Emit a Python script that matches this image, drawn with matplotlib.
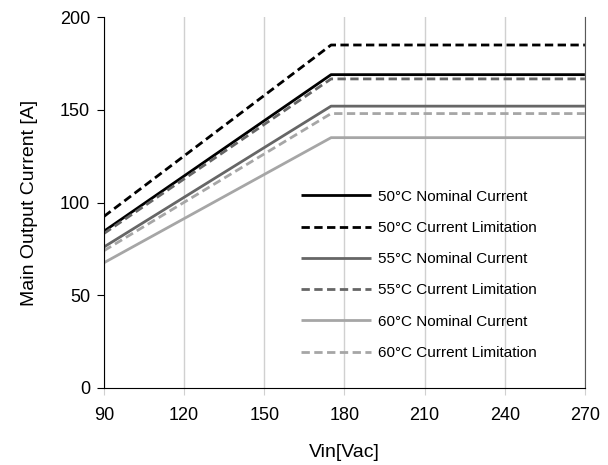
import matplotlib
matplotlib.use("Agg")
import matplotlib.pyplot as plt

plt.rcParams['font.family'] = ['Liberation Sans', 'DejaVu Sans']

vin = [90, 175, 270]
nom50 = [84.5, 169, 169]
lim50 = [92.5, 185, 185]
nom55 = [76, 152, 152]
lim55 = [83.3, 166.7, 166.7]
nom60 = [67.5, 135, 135]
lim60 = [74, 148, 148]
labels = ["50°C Nominal Current", "50°C Current Limitation",
          "55°C Nominal Current", "55°C Current Limitation",
          "60°C Nominal Current", "60°C Current Limitation"]
xticks = [90, 120, 150, 180, 210, 240, 270]
yticks = [0, 50, 100, 150, 200]

fig = plt.figure(figsize=(6.08, 4.65), dpi=100)
ax = fig.add_axes([0.171, 0.166, 0.791, 0.797])

series = [nom50, lim50, nom55, lim55, nom60, lim60]
colors = ['#000000', '#000000', '#666666', '#666666', '#a6a6a6', '#a6a6a6']
styles = ['-', '--', '-', '--', '-', '--']
for s, c, ls, lab in zip(series, colors, styles, labels):
    ax.plot(vin, s, color=c, linestyle=ls, linewidth=2.0, label=lab,
            dashes=(3, 1.6) if ls == '--' else (None, None), solid_capstyle='butt')

ax.set_xlim(90, 270)
ax.set_ylim(0, 200)
ax.set_xticks(xticks)
ax.set_yticks(yticks)
ax.grid(axis='x', color='#d0d0d0', linewidth=1)
ax.set_axisbelow(True)
ax.spines['top'].set_visible(False)
ax.spines['right'].set_color('#595959')
ax.spines['left'].set_color('black')
ax.spines['bottom'].set_color('black')
ax.tick_params(axis='y', length=5, labelsize=13, direction='out', pad=5)
ax.tick_params(axis='x', length=5, color='#d0d0d0', labelsize=13, pad=9)
ax.set_xlabel('Vin[Vac]', fontsize=14, labelpad=14)
ax.set_ylabel('Main Output Current [A]', fontsize=14, labelpad=16)

ax.legend(loc='lower left', bbox_to_anchor=(0.381, 0.038), frameon=False,
          fontsize=11, handlelength=4.6, labelspacing=1.13, handletextpad=0.45)

fig.savefig('out.png', dpi=100)
